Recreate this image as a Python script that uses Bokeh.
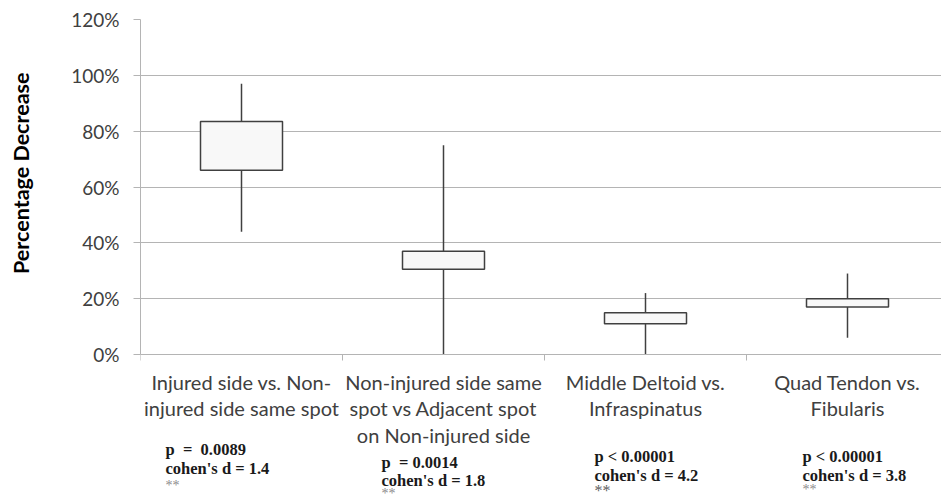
from bokeh.plotting import figure
from bokeh.models import Range1d, FixedTicker, NumeralTickFormatter, ColumnDataSource, Title
from bokeh.core.properties import value
from bokeh.embed import file_html
from bokeh.resources import INLINE

# ---- data ----
categories = [
    "Injured side vs. Non-\ninjured side same spot",
    "Non-injured side same\nspot vs Adjacent spot\non Non-injured side",
    "Middle Deltoid vs.\nInfraspinatus",
    "Quad Tendon vs.\nFibularis",
]
q1 = [0.66, 0.305, 0.11, 0.17]
q3 = [0.835, 0.37, 0.15, 0.20]
whisker_low = [0.44, 0.0, 0.0, 0.06]
whisker_high = [0.97, 0.75, 0.22, 0.29]
p_values = ["p\u00a0 =\u00a0 0.0089", "p\u00a0 = 0.0014", "p < 0.00001", "p < 0.00001"]
cohens_d = ["cohen's d = 1.4", "cohen's d = 1.8", "cohen's d = 4.2", "cohen's d = 3.8"]
significance = ["**", "**", "**", "**"]
y_ticks = [0.0, 0.2, 0.4, 0.6, 0.8, 1.0, 1.2]

# ---- layout (not data) ----
W, H = 941, 502
LEFT, TOP = 140, 19
PX_PER_CAT = 202.0
PX_PER_UNIT = 335.0 / 1.2                  # 0% .. 120% spans 335 px
Y_MIN = -(H - TOP - 335) / PX_PER_UNIT     # room under 0% for the labels
text_dx = [-76, -62, -51, -45]             # px offset of stats text from category centre
text_dy = [[95, 114, 131], [108, 126, 139], [102, 121, 136], [102, 121, 135]]  # px below 0%
sig_color = ["#8c8c8c", "#8c8c8c", "#606060", "#8c8c8c"]
sig_size = ["14px", "14px", "16px", "14px"]

xs = [i + 0.5 for i in range(len(categories))]

p = figure(width=W, height=H, output_backend="svg", toolbar_location=None,
           x_range=Range1d(0, (W - LEFT) / PX_PER_CAT), y_range=Range1d(Y_MIN, 1.2),
           min_border_left=LEFT, min_border_right=0, min_border_top=TOP, min_border_bottom=0)
p.outline_line_color = None

# grid
p.xgrid.visible = False
p.ygrid.grid_line_color = "#b4b4b4"
p.ygrid.grid_line_width = 1

# y axis
p.yaxis.ticker = FixedTicker(ticks=y_ticks)
p.yaxis.bounds = (0, 1.2)
p.yaxis.formatter = NumeralTickFormatter(format="0%")
p.yaxis.axis_line_color = "#b4b4b4"
p.yaxis.major_tick_line_color = "#b4b4b4"
p.yaxis.major_tick_out = 7
p.yaxis.major_tick_in = 0
p.yaxis.minor_tick_line_color = None
p.yaxis.major_label_text_font = "Lato"
p.yaxis.major_label_text_font_size = "19px"
p.yaxis.major_label_text_color = "#404040"
p.yaxis.major_label_standoff = 14
p.yaxis.axis_label = "\u00a0"
p.yaxis.axis_label_text_font_size = "21px"
p.yaxis.axis_label_standoff = 4

p.add_layout(Title(text="Percentage Decrease", align="right", offset=53,
                   text_font="Lato", text_font_style="bold", text_font_size="21.5px",
                   text_color="#000000"), "left")

# x axis, drawn at 0%
p.xaxis.fixed_location = 0
p.xaxis.ticker = FixedTicker(ticks=xs, minor_ticks=[0, 1, 2, 3, 4])
p.xaxis.major_label_overrides = {x: c for x, c in zip(xs, categories)}
p.xaxis.axis_line_color = "#b4b4b4"
p.xaxis.major_tick_line_color = None
p.xaxis.major_tick_out = 0
p.xaxis.major_tick_in = 0
p.xaxis.minor_tick_line_color = "#b4b4b4"
p.xaxis.minor_tick_out = 6
p.xaxis.minor_tick_in = 0
p.xaxis.major_label_text_font = "Lato"
p.xaxis.major_label_text_font_size = "20px"
p.xaxis.major_label_text_color = "#404040"
p.xaxis.major_label_text_line_height = 1.12
p.xaxis.major_label_standoff = 9

# whiskers then boxes
p.segment(x0=xs, x1=xs, y0=whisker_low, y1=whisker_high, line_color="#404040", line_width=1.5)
p.vbar(x=xs, width=82 / PX_PER_CAT, bottom=q1, top=q3, fill_color="#f8f8f8",
       line_color="#404040", line_width=1.5)

# stats text under each category
stat_x, stat_y, stat_txt = [], [], []
sig_x, sig_y, sig_txt = [], [], []
for i, x in enumerate(xs):
    xx = x + text_dx[i] / PX_PER_CAT
    stat_x += [xx, xx]
    stat_y += [-text_dy[i][0] / PX_PER_UNIT, -text_dy[i][1] / PX_PER_UNIT]
    stat_txt += [p_values[i], cohens_d[i]]
    sig_x.append(xx)
    sig_y.append(-text_dy[i][2] / PX_PER_UNIT)
    sig_txt.append(significance[i])

p.text(x="x", y="y", text="t", source=ColumnDataSource(dict(x=stat_x, y=stat_y, t=stat_txt)),
       text_font=value("Liberation Serif"), text_font_style="bold", text_font_size="16.5px",
       text_color="#1a1a1a", text_align="left", text_baseline="middle")
p.text(x="x", y="y", text="t",
       source=ColumnDataSource(dict(x=sig_x, y=sig_y, t=sig_txt, c=sig_color, s=sig_size)),
       text_font=value("Liberation Serif"), text_font_size="s",
       text_color="c", text_align="left", text_baseline="middle")

open("out.html", "w").write(file_html(p, INLINE))
